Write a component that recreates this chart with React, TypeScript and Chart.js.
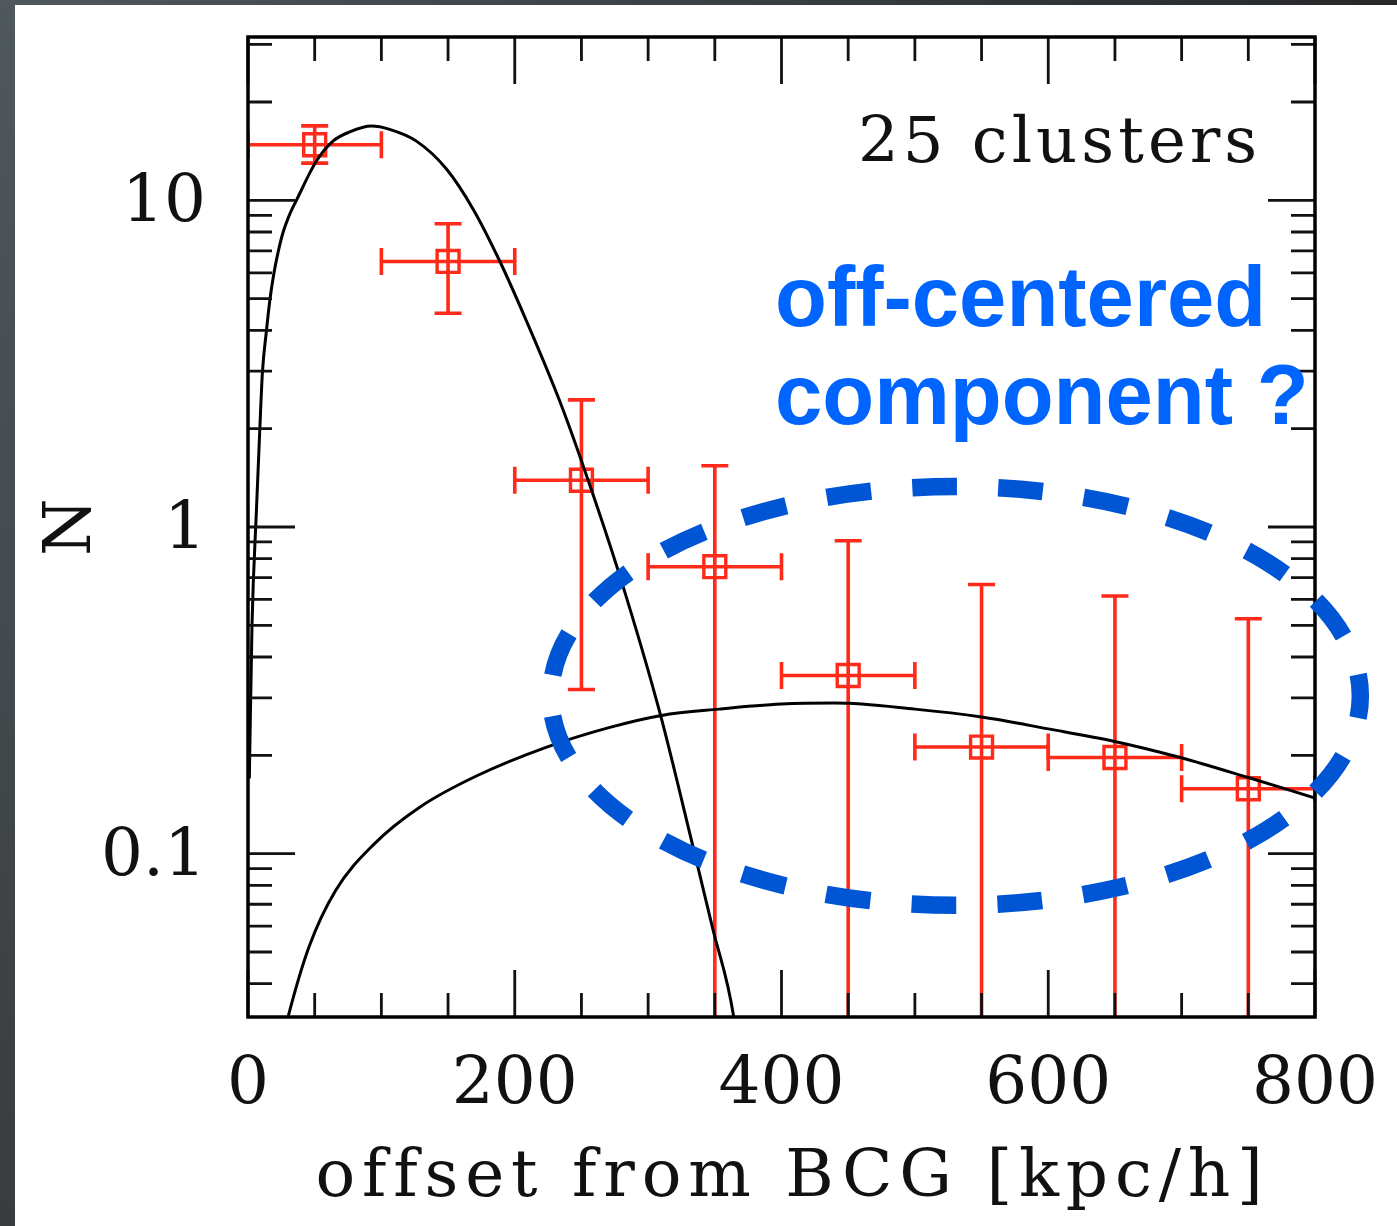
import React, { useEffect, useRef } from 'react';
import { Chart, registerables } from 'chart.js';

Chart.register(...registerables);

// ---- data ----
const binCenters = [50, 150, 250, 350, 450, 550, 650, 750];
const binHalfWidths = [50, 50, 50, 50, 50, 50, 50, 50];
const counts = [14.8, 6.5, 1.39, 0.756, 0.351, 0.212, 0.197, 0.158];
const countUpper = [16.9, 8.48, 2.45, 1.54, 0.908, 0.667, 0.615, 0.524];
const countLower = [13.0, 4.51, 0.318, 0, 0, 0, 0, 0];

const centeredX = [1, 3, 6.3, 8.8, 10.8, 13.8, 16.3, 19.3, 22.5, 26.2, 30.7, 36.3, 51.3, 63.7, 76.3, 92.5, 106.2, 126.3, 148.8, 168.7, 188.7, 208.7, 233.7, 252.5, 278.7, 308.7, 333.4, 348.4, 364.2, 372];
const centeredN = [0.17, 0.5, 1.12, 1.97, 2.97, 3.98, 4.92, 5.94, 6.92, 7.96, 8.95, 10.0, 13.19, 15.18, 16.2, 16.88, 16.49, 15.18, 12.47, 9.41, 6.52, 4.28, 2.43, 1.49, 0.71, 0.271, 0.106, 0.0591, 0.0316, 0.017];

const offsetX = [27, 30, 45.7, 65.8, 94.5, 129, 172, 224, 272, 310, 353, 400, 440, 500, 550, 600, 649, 699, 750, 800];
const offsetN = [0.028, 0.0316, 0.0518, 0.0773, 0.107, 0.139, 0.1735, 0.212, 0.244, 0.265, 0.277, 0.287, 0.289, 0.277, 0.262, 0.241, 0.221, 0.197, 0.171, 0.148];

const xRange = [0, 800];
const yRange = [0.031623, 31.623];
const xLabelTicks = [0, 200, 400, 600, 800];
const xMinorTicks = [50, 100, 150, 250, 300, 350, 450, 500, 550, 650, 700, 750];
const yLabelTicks = [0.1, 1, 10];
const yMinorTicks = [0.04, 0.05, 0.06, 0.07, 0.08, 0.09, 0.2, 0.3, 0.4, 0.5, 0.6, 0.7, 0.8, 0.9, 2, 3, 4, 5, 6, 7, 8, 9, 20, 30];

const xTitle = 'offset from BCG [kpc/h]';
const yTitle = 'N';
const sampleLabel = '25 clusters';
const calloutLines = ['off-centered', 'component ?'];
const highlightRegion = { xMin: 227, xMax: 834, yMin: 0.0695, yMax: 1.33 };

// ---- styles ----
const SERIF = '"DejaVu Serif", serif';
const RED = '#ff2a1a';
const BLUE_TEXT = '#0064ff';
const BLUE_RING = '#0055d4';
const MAJOR_LEN = 47;
const MINOR_LEN = 24;

const decorPlugin = {
  id: 'decor',
  beforeDraw(chart: any) {
    const { ctx, width, height } = chart;
    ctx.save();
    ctx.fillStyle = '#ffffff';
    ctx.fillRect(0, 0, width, height);
    const gTop = ctx.createLinearGradient(0, 0, width, 0);
    gTop.addColorStop(0, '#4f585c');
    gTop.addColorStop(1, '#26282a');
    ctx.fillStyle = gTop;
    ctx.fillRect(0, 0, width, 5);
    const gLeft = ctx.createLinearGradient(0, 0, 0, height);
    gLeft.addColorStop(0, '#4f585c');
    gLeft.addColorStop(1, '#393c3f');
    ctx.fillStyle = gLeft;
    ctx.fillRect(0, 0, 15, height);
    ctx.restore();
  },
  beforeDatasetsDraw(chart: any) {
    const { ctx, chartArea: a, scales } = chart;
    const x = scales.x;
    const y = scales.y;
    ctx.save();
    ctx.beginPath();
    ctx.rect(a.left, a.top, a.right - a.left, a.bottom - a.top);
    ctx.clip();
    ctx.strokeStyle = RED;
    ctx.lineWidth = 3.6;
    ctx.lineCap = 'butt';
    const cap = 13.5;
    binCenters.forEach((c, i) => {
      const px = x.getPixelForValue(c);
      const py = y.getPixelForValue(counts[i]);
      const xl = x.getPixelForValue(c - binHalfWidths[i]);
      const xr = x.getPixelForValue(c + binHalfWidths[i]);
      const yu = y.getPixelForValue(countUpper[i]);
      const low = countLower[i];
      const yl = low > y.min ? y.getPixelForValue(low) : a.bottom + 5;
      ctx.beginPath();
      ctx.moveTo(xl, py); ctx.lineTo(xr, py);
      ctx.moveTo(xl, py - cap); ctx.lineTo(xl, py + cap);
      ctx.moveTo(xr, py - cap); ctx.lineTo(xr, py + cap);
      ctx.moveTo(px, yu); ctx.lineTo(px, yl);
      ctx.moveTo(px - cap, yu); ctx.lineTo(px + cap, yu);
      if (low > y.min) { ctx.moveTo(px - cap, yl); ctx.lineTo(px + cap, yl); }
      ctx.stroke();
    });
    ctx.restore();
  },
  afterDatasetsDraw(chart: any) {
    const { ctx, chartArea: a, scales } = chart;
    const x = scales.x;
    const y = scales.y;
    ctx.save();
    ctx.strokeStyle = '#111';
    ctx.lineWidth = 2.8;
    ctx.beginPath();
    const xt = (v: number, len: number) => {
      const px = x.getPixelForValue(v);
      ctx.moveTo(px, a.bottom); ctx.lineTo(px, a.bottom - len);
      ctx.moveTo(px, a.top); ctx.lineTo(px, a.top + len);
    };
    const yt = (v: number, len: number) => {
      const py = y.getPixelForValue(v);
      ctx.moveTo(a.left, py); ctx.lineTo(a.left + len, py);
      ctx.moveTo(a.right, py); ctx.lineTo(a.right - len, py);
    };
    xLabelTicks.forEach((v) => xt(v, MAJOR_LEN));
    xMinorTicks.forEach((v) => xt(v, MINOR_LEN));
    yLabelTicks.forEach((v) => yt(v, MAJOR_LEN));
    yMinorTicks.forEach((v) => yt(v, MINOR_LEN));
    ctx.stroke();
    ctx.lineWidth = 3.5;
    ctx.strokeStyle = '#000';
    ctx.strokeRect(a.left, a.top, a.right - a.left, a.bottom - a.top);
    ctx.restore();
  },
  afterDraw(chart: any) {
    const { ctx, chartArea: a, scales } = chart;
    const x = scales.x;
    const y = scales.y;
    ctx.save();
    // sample label
    ctx.fillStyle = '#111';
    ctx.font = '64px ' + SERIF;
    (ctx as any).letterSpacing = '4px';
    ctx.textAlign = 'left';
    ctx.textBaseline = 'alphabetic';
    ctx.fillText(sampleLabel, a.left + 610, a.top + 125);
    (ctx as any).letterSpacing = '0px';
    // callout
    ctx.fillStyle = BLUE_TEXT;
    ctx.font = 'bold 85px "Liberation Sans", Arial, sans-serif';
    ctx.fillText(calloutLines[0], a.left + 527, a.top + 289);
    ctx.fillText(calloutLines[1], a.left + 527, a.top + 387);
    // dashed ring around the highlighted region
    const x1 = x.getPixelForValue(highlightRegion.xMin);
    const x2 = x.getPixelForValue(highlightRegion.xMax);
    const y1 = y.getPixelForValue(highlightRegion.yMax);
    const y2 = y.getPixelForValue(highlightRegion.yMin);
    const cx = (x1 + x2) / 2;
    const cy = (y1 + y2) / 2;
    const rx = (x2 - x1) / 2;
    const ry = (y2 - y1) / 2;
    const h = Math.pow(rx - ry, 2) / Math.pow(rx + ry, 2);
    const perim = Math.PI * (rx + ry) * (1 + (3 * h) / (10 + Math.sqrt(4 - 3 * h)));
    const period = perim / 23;
    const dash = period * 0.52;
    ctx.strokeStyle = BLUE_RING;
    ctx.lineWidth = 17.5;
    ctx.setLineDash([dash, period - dash]);
    ctx.lineDashOffset = dash / 2;
    ctx.beginPath();
    ctx.ellipse(cx, cy, rx, ry, 0, 0, Math.PI * 2);
    ctx.stroke();
    ctx.restore();
  },
};

export default function App() {
  const ref = useRef<HTMLCanvasElement>(null);
  useEffect(() => {
    const canvas = ref.current;
    if (!canvas) return;
    const tickFont = { family: SERIF, size: 66, weight: 'normal' as const };
    const chart = new Chart(canvas, {
      type: 'scatter',
      data: {
        datasets: [
          {
            type: 'line',
            label: 'centered',
            data: centeredX.map((v, i) => ({ x: v, y: centeredN[i] })),
            borderColor: '#000',
            borderWidth: 3,
            pointRadius: 0,
            cubicInterpolationMode: 'monotone',
            fill: false,
          } as any,
          {
            type: 'line',
            label: 'off-centered',
            data: offsetX.map((v, i) => ({ x: v, y: offsetN[i] })),
            borderColor: '#000',
            borderWidth: 3,
            pointRadius: 0,
            cubicInterpolationMode: 'monotone',
            fill: false,
          } as any,
          {
            type: 'scatter',
            label: 'data',
            data: binCenters.map((v, i) => ({ x: v, y: counts[i] })),
            pointStyle: 'rect',
            pointRadius: 15.5,
            pointHoverRadius: 15.5,
            borderColor: RED,
            backgroundColor: 'rgba(0,0,0,0)',
            borderWidth: 3.4,
          } as any,
        ],
      },
      options: {
        animation: false,
        responsive: false,
        devicePixelRatio: 1,
        events: [],
        layout: { padding: { left: 0, top: 37, right: 82, bottom: 0 } },
        plugins: { legend: { display: false }, tooltip: { enabled: false } },
        scales: {
          x: {
            type: 'linear',
            min: xRange[0],
            max: xRange[1],
            afterBuildTicks: (s: any) => {
              s.ticks = xLabelTicks.map((v) => ({ value: v }));
            },
            afterFit: (s: any) => {
              s.height = 209;
              s.paddingLeft = 0;
              s.paddingRight = 0;
              if (!s._spacedTitle) {
                const orig = s.drawTitle.bind(s);
                s.drawTitle = () => {
                  const c = s.ctx;
                  c.save();
                  c.letterSpacing = '6.8px';
                  c.translate(11, 0);
                  orig();
                  c.restore();
                };
                s._spacedTitle = true;
              }
            },
            ticks: {
              font: tickFont,
              color: '#111',
              padding: 29,
              maxRotation: 0,
              autoSkip: false,
              callback: (v: any) => String(v),
            },
            grid: { display: false, drawTicks: false },
            border: { display: false },
            title: {
              display: true,
              text: xTitle,
              font: tickFont,
              color: '#111',
              padding: { top: 0, bottom: 8 },
            },
          },
          y: {
            type: 'logarithmic',
            min: yRange[0],
            max: yRange[1],
            afterBuildTicks: (s: any) => {
              s.ticks = yLabelTicks.map((v) => ({ value: v }));
            },
            afterFit: (s: any) => {
              s.width = 248;
              s.paddingTop = 0;
              s.paddingBottom = 0;
            },
            ticks: {
              font: tickFont,
              color: '#111',
              padding: 42,
              labelOffset: 4,
              autoSkip: false,
              callback: (v: any) => String(v),
            },
            grid: { display: false, drawTicks: false },
            border: { display: false },
            title: {
              display: true,
              text: yTitle,
              font: tickFont,
              color: '#111',
              padding: { top: 33, bottom: 0 },
            },
          },
        },
      } as any,
      plugins: [decorPlugin],
    });
    return () => chart.destroy();
  }, []);
  return (
    <div style={{ position: 'absolute', left: 0, top: 0, width: 1397, height: 1226, background: '#fff' }}>
      <canvas ref={ref} width={1397} height={1226} style={{ display: 'block', width: 1397, height: 1226 }} />
    </div>
  );
}
